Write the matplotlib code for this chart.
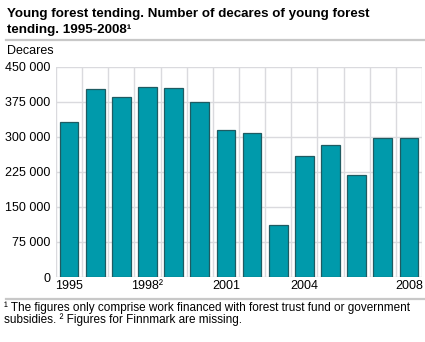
import matplotlib
matplotlib.use("Agg")
import matplotlib.pyplot as plt
from matplotlib.lines import Line2D

years = ["1995", "1996", "1997", "1998", "1999", "2000", "2001",
         "2002", "2003", "2004", "2005", "2006", "2007", "2008"]
decares = [331000, 401500, 384500, 406000, 403500, 373500, 313500,
           307500, 111500, 258000, 281500, 217500, 298500, 297500]
tick_idx = [0, 3, 6, 9, 13]
tick_labels = ["1995", "1998\u00b2", "2001", "2004", "2008"]
yticks = [0, 75000, 150000, 225000, 300000, 375000, 450000]
ytick_labels = ["0", "75 000", "150 000", "225 000", "300 000", "375 000", "450 000"]

plt.rcParams['font.family'] = ['Liberation Sans', 'DejaVu Sans']

W, H = 425, 342
fig = plt.figure(figsize=(W / 100, H / 100), dpi=100)
ax = fig.add_axes([56 / W, 1 - 277 / H, (422 - 56) / W, (277 - 66.7) / H])

x = list(range(len(years)))
ax.bar(x, decares, width=0.72, color="#009aab", edgecolor="#1f5b62",
       linewidth=0.9, zorder=3)

ax.set_xlim(-0.5, len(years) - 0.5)
ax.set_ylim(0, 450000)
ax.set_yticks(yticks)
ax.set_yticklabels(ytick_labels, fontsize=9, color="#000000")
ax.set_xticks(tick_idx)
ax.set_xticklabels(tick_labels, fontsize=9, color="#000000")
ax.tick_params(axis="y", length=0, pad=4)
ax.tick_params(axis="x", length=0, pad=2)

grid_c = "#dadade"
for yv in yticks:
    ax.axhline(yv, color=grid_c, lw=1.0, zorder=1)
for i in range(len(years) + 1):
    ax.axvline(i - 0.5, color=grid_c, lw=1.0, zorder=1)
for s in ax.spines.values():
    s.set_visible(False)

fig.text(7 / W, 1 - 16.5 / H, "Young forest tending. Number of decares of young forest",
         fontsize=9.6, fontweight="bold", va="baseline", ha="left")
fig.text(7 / W, 1 - 32.5 / H, "tending. 1995-2008\u00b9",
         fontsize=9.6, fontweight="bold", va="baseline", ha="left")
fig.add_artist(Line2D([6 / W, 1], [1 - 39.5 / H, 1 - 39.5 / H],
                      transform=fig.transFigure, color="#c8c8c8", lw=1.6))
fig.text(7 / W, 1 - 51 / H, "Decares", fontsize=9, va="center", ha="left")

fig.add_artist(Line2D([6 / W, 1], [1 - 299 / H, 1 - 299 / H],
                      transform=fig.transFigure, color="#c8c8c8", lw=1.6))
fig.text(4 / W, 1 - 311.5 / H,
         "\u00b9 The figures only comprise work financed with forest trust fund or government",
         fontsize=8.5, va="baseline", ha="left")
fig.text(4 / W, 1 - 323 / H,
         "subsidies. \u00b2 Figures for Finnmark are missing.",
         fontsize=8.5, va="baseline", ha="left")

fig.savefig("out.png", dpi=100)
